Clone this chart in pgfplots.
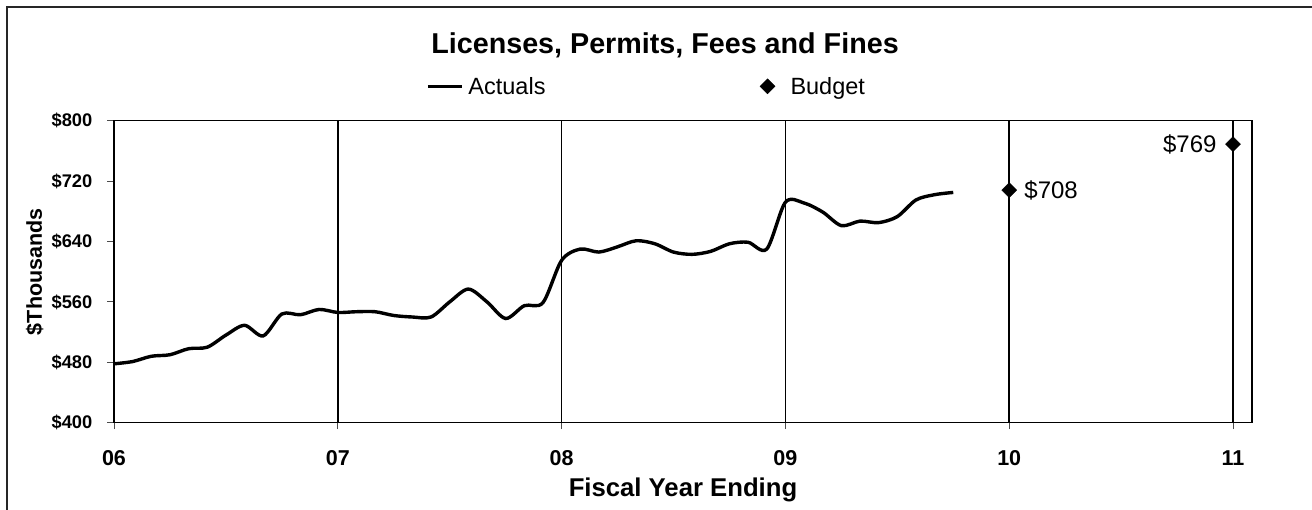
\documentclass[border=0pt]{standalone}
\usepackage{fontspec}
\setmainfont{Liberation Sans}
\usepackage{pgfplots}
\usepackage{pgfplotstable}
\pgfplotsset{compat=1.18}
\pgfplotstableread{
k v
0 478
1 481
2 488
3 490
4 498
5 500
6 516
7 529
8 515
9 544
10 543
11 550
12 546
13 547
14 547
15 542
16 540
17 540
18 560
19 577
20 560
21 538
22 555
23 559
24 615
25 630
26 626
27 633
28 641
29 637
30 626
31 623
32 627
33 637
34 639
35 630
36 692
37 691
38 679
39 661
40 667
41 665
42 673
43 695
44 702
45 705
}\actuals
\begin{document}
\begin{tikzpicture}
\useasboundingbox (0pt,0pt) rectangle (1312pt,-510pt);
\draw[line width=1.8pt, black!85] (7pt,-510pt) -- (7pt,-7pt) -- (1312pt,-7pt);
\begin{axis}[
  at={(114pt,-422.7pt)}, anchor=south west,
  scale only axis, width=1138pt, height=302pt,
  xmin=6, xmax=11.085, ymin=400, ymax=800,
  /pgf/number format/assume math mode=true,
  xtick={6,7,8,9,10,11}, xticklabels={06,07,08,09,10,11},
  ytick={400,480,560,640,720,800},
  yticklabels={\$400,\$480,\$560,\$640,\$720,\$800},
  xtick pos=bottom, ytick pos=left,
  xmajorgrids, x grid style={black, line width=1.6pt},
  axis line style={black, line width=1.4pt},
  tick align=outside, major tick length=6.5pt,
  tick style={black!70, line width=0.9pt},
  xticklabel style={font=\fontsize{21.5}{24}\selectfont\bfseries, anchor=base, inner sep=0pt, yshift=-36pt},
  yticklabel style={font=\fontsize{18.3}{21}\selectfont\bfseries, anchor=east, inner sep=0pt, xshift=-15pt},
  title={Licenses, Permits, Fees and Fines},
  title style={font=\fontsize{28.7}{32}\selectfont\bfseries, at={(axis description cs:0.4842,1.2043)}, anchor=base, inner sep=0pt},
  xlabel={Fiscal Year Ending},
  xlabel style={font=\fontsize{25.7}{29}\selectfont\bfseries, at={(axis description cs:0.5,-0.2434)}, anchor=base, inner sep=0pt},
  ylabel={\$Thousands},
  ylabel style={font=\fontsize{21.5}{24}\selectfont\bfseries, at={(axis description cs:-0.0633,0.5)}, anchor=base, rotate=0, inner sep=0pt},
  legend columns=2,
  legend style={draw=none, fill=none, inner sep=0pt, at={(axis description cs:0.2742,1.114)}, anchor=west,
    font=\fontsize{23.5}{26}\selectfont, nodes={inner sep=0pt},
    /tikz/column 1/.style={column sep=5pt},
    /tikz/column 2/.style={column sep=214.5pt},
    /tikz/column 3/.style={column sep=15.5pt}},
]
\addplot[black, line width=3.4pt, smooth, no marks,
  legend image code/.code={\draw[black, line width=3.2pt] (0pt,0pt) -- (34pt,0pt);}]
  table[x expr=6+\thisrow{k}/12, y=v] {\actuals};
\addlegendentry{Actuals}
\addplot[black, only marks, mark=square*, mark size=5.3pt, mark options={rotate=45, fill=black},
  point meta=y, nodes near coords={\$\pgfmathprintnumber{\pgfplotspointmeta}},
  every node near coord/.append style={font=\fontsize{24}{27}\selectfont, anchor=west, inner sep=0pt, xshift=15pt},
  legend image code/.code={\draw[black] plot[mark=square*, mark size=5.3pt, mark options={rotate=45, fill=black}] coordinates {(7.5pt,0pt)};}]
  coordinates {(10,708)};
\addlegendentry{Budget}
\addplot[black, only marks, mark=square*, mark size=5.3pt, mark options={rotate=45, fill=black},
  point meta=y, nodes near coords={\$\pgfmathprintnumber{\pgfplotspointmeta}},
  every node near coord/.append style={font=\fontsize{24}{27}\selectfont, anchor=east, inner sep=0pt, xshift=-16.3pt},
  forget plot]
  coordinates {(11,769)};
\end{axis}
\end{tikzpicture}
\end{document}
